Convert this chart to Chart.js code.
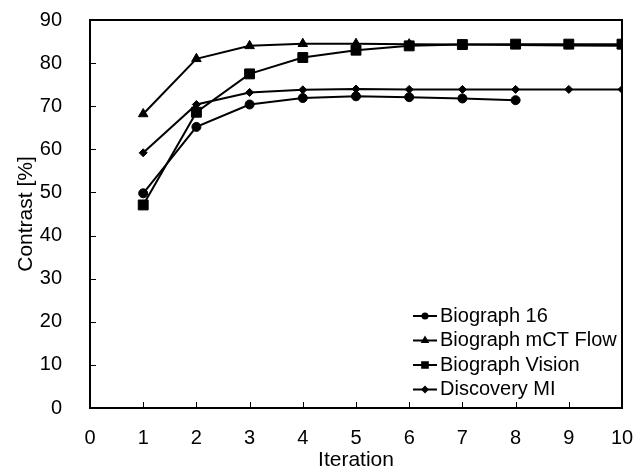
<!DOCTYPE html>
<html>
<head>
<meta charset="utf-8">
<script src="https://cdn.jsdelivr.net/npm/chart.js@4.4.1/dist/chart.umd.min.js"></script>
<style>
    html, body { margin: 0; padding: 0; background: #fff; }
    #wrap { width: 634px; height: 473px; }
</style>
</head>
<body>
<div id="wrap"><canvas id="myChart" width="634" height="473"></canvas></div>
<script>
const iterations = [1, 2, 3, 4, 5, 6, 7, 8, 9, 10];
const biograph16 = [49.8, 65.2, 70.4, 71.9, 72.3, 72.1, 71.8, 71.4];
const mctFlow = [68.2, 81.0, 84.0, 84.5, 84.5, 84.4, 84.3, 84.2, 84.1, 84.0];
const vision = [47.1, 68.6, 77.5, 81.3, 83.0, 84.0, 84.3, 84.4, 84.4, 84.4];
const discoveryMI = [59.2, 70.4, 73.2, 73.8, 74.0, 73.9, 73.9, 73.9, 73.9, 73.9];
const seriesNames = ['Biograph 16', 'Biograph mCT Flow', 'Biograph Vision', 'Discovery MI'];
const xTicks = [0, 1, 2, 3, 4, 5, 6, 7, 8, 9, 10];
const yTicks = [0, 10, 20, 30, 40, 50, 60, 70, 80, 90];

const font = 'Liberation Sans, Arial, sans-serif';

function toPoints(values) {
    return values.map((v, i) => ({ x: iterations[i], y: v }));
}

function makeSet(label, values, style, radius, legendRadius) {
    return {
        label: label,
        data: toPoints(values),
        borderColor: '#000',
        backgroundColor: '#000',
        borderWidth: 2,
        pointStyle: style,
        pointRadius: radius,
        pointHoverRadius: radius,
        pointBorderWidth: 1,
        legendRadius: legendRadius,
        fill: false,
        tension: 0
    };
}

// box round the plot and small ticks pointing inward
const framePlugin = {
    id: 'frame',
    afterDatasetsDraw(chart) {
        const ctx = chart.ctx;
        const a = chart.chartArea;
        const xs = chart.scales.x, ys = chart.scales.y;
        ctx.save();
        ctx.strokeStyle = '#000';
        ctx.lineWidth = 1;
        xTicks.forEach(t => {
            const px = Math.round(xs.getPixelForValue(t)) + 0.5;
            ctx.beginPath();
            ctx.moveTo(px, a.bottom);
            ctx.lineTo(px, a.bottom - 6);
            ctx.stroke();
        });
        yTicks.forEach(t => {
            const py = Math.round(ys.getPixelForValue(t)) + 0.5;
            ctx.beginPath();
            ctx.moveTo(a.left, py);
            ctx.lineTo(a.left + 6, py);
            ctx.stroke();
        });
        ctx.lineWidth = 2;
        ctx.strokeRect(a.left, a.top, a.right - a.left, a.bottom - a.top);
        ctx.restore();
    }
};

// legend inside the plot, lower right
const legendPlugin = {
    id: 'insideLegend',
    afterDatasetsDraw(chart) {
        const ctx = chart.ctx;
        const a = chart.chartArea;
        const x0 = a.left + 323;
        let y = a.top + 296;
        ctx.save();
        ctx.font = '20px ' + font;
        ctx.fillStyle = '#000';
        ctx.textBaseline = 'middle';
        chart.data.datasets.forEach(ds => {
            ctx.strokeStyle = '#000';
            ctx.lineWidth = 2;
            ctx.beginPath();
            ctx.moveTo(x0, y);
            ctx.lineTo(x0 + 24, y);
            ctx.stroke();
            Chart.helpers.drawPoint(ctx, {
                pointStyle: ds.pointStyle,
                radius: ds.legendRadius,
                rotation: 0,
                borderWidth: 1
            }, x0 + 12, y);
            ctx.fillText(ds.label, x0 + 27, y);
            y += 24.5;
        });
        ctx.restore();
    }
};

const ctx = document.getElementById('myChart').getContext('2d');
const myChart = new Chart(ctx, {
    type: 'line',
    data: {
        datasets: [
            makeSet(seriesNames[0], biograph16, 'circle', 4.5, 2.5),
            makeSet(seriesNames[1], mctFlow, 'triangle', 5.5, 3),
            makeSet(seriesNames[2], vision, 'rect', 7, 4),
            makeSet(seriesNames[3], discoveryMI, 'rectRot', 4, 2.5)
        ]
    },
    options: {
        responsive: false,
        animation: false,
        layout: {
            padding: { top: 20, right: 12, left: 14, bottom: 0 }
        },
        scales: {
            x: {
                type: 'linear',
                min: 0,
                max: 10,
                afterBuildTicks: axis => { axis.ticks = xTicks.map(v => ({ value: v })); },
                afterFit: axis => {
                    axis.height = 65;
                    axis.paddingLeft = 0;
                    axis.paddingRight = 0;
                },
                grid: { display: false },
                border: { display: false },
                ticks: {
                    color: '#000',
                    font: { family: font, size: 20 },
                    padding: 10,
                    maxRotation: 0
                },
                title: {
                    display: true,
                    text: 'Iteration',
                    color: '#000',
                    font: { family: font, size: 21 },
                    padding: { top: 3, bottom: 0 }
                }
            },
            y: {
                min: 0,
                max: 90,
                afterBuildTicks: axis => { axis.ticks = yTicks.map(v => ({ value: v })); },
                afterFit: axis => {
                    axis.width = 76;
                    axis.paddingTop = 0;
                    axis.paddingBottom = 0;
                },
                grid: { display: false },
                border: { display: false },
                ticks: {
                    color: '#000',
                    font: { family: font, size: 20 },
                    padding: 20
                },
                title: {
                    display: true,
                    text: 'Contrast [%]',
                    color: '#000',
                    font: { family: font, size: 21 },
                    padding: { top: 0, bottom: 4 }
                }
            }
        },
        plugins: {
            legend: { display: false },
            tooltip: { enabled: false }
        }
    },
    plugins: [framePlugin, legendPlugin]
});
</script>
</body>
</html>
